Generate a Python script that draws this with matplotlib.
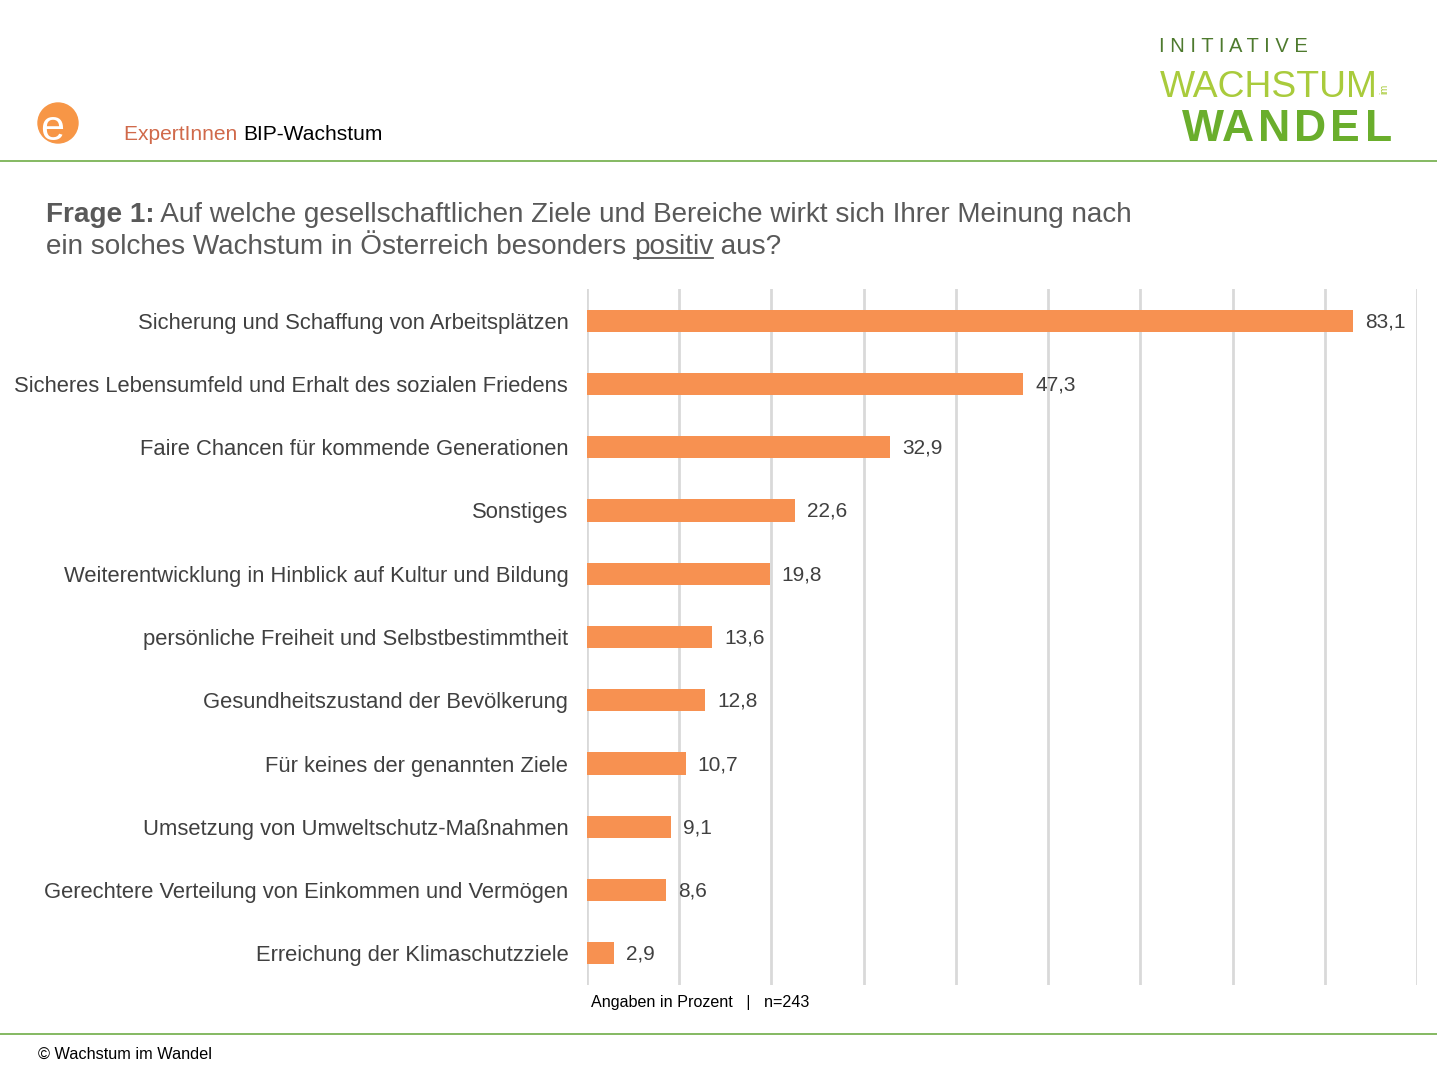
import matplotlib
matplotlib.use("Agg")
import matplotlib.pyplot as plt
from matplotlib.patches import Ellipse

plt.rcParams['font.family'] = ['Liberation Sans', 'DejaVu Sans']

categories = [
    "Sicherung und Schaffung von Arbeitsplätzen",
    "Sicheres Lebensumfeld und Erhalt des sozialen Friedens",
    "Faire Chancen für kommende Generationen",
    "Sonstiges",
    "Weiterentwicklung in Hinblick auf Kultur und Bildung",
    "persönliche Freiheit und Selbstbestimmtheit",
    "Gesundheitszustand der Bevölkerung",
    "Für keines der genannten Ziele",
    "Umsetzung von Umweltschutz-Maßnahmen",
    "Gerechtere Verteilung von Einkommen und Vermögen",
    "Erreichung der Klimaschutzziele",
]
values = [83.1, 47.3, 32.9, 22.6, 19.8, 13.6, 12.8, 10.7, 9.1, 8.6, 2.9]
value_labels = ["83,1", "47,3", "32,9", "22,6", "19,8", "13,6", "12,8", "10,7", "9,1", "8,6", "2,9"]
xticks = list(range(0, 91, 10))

W, H = 1437, 1079
fig = plt.figure(figsize=(W / 100, H / 100), dpi=100)

def fx(x):
    return x / W

def fy(y):
    return 1 - y / H

# axes
ax = fig.add_axes([fx(587), fy(985), (1417 - 587) / W, (985 - 289) / H])
pos = list(range(len(categories)))
ax.barh(pos, values, height=0.35, color="#F79151", zorder=3)
ax.set_xlim(0, 90)
ax.set_ylim(len(categories) - 0.5, -0.5)
ax.set_xticks(xticks)
ax.set_xticklabels([])
ax.set_yticks(pos)
ax.set_yticklabels(categories, fontsize=15.8, color="#404040")
ax.tick_params(axis='both', length=0)
ax.tick_params(axis='y', pad=13.5)
ax.grid(axis='x', color="#D9D9D9", linewidth=2, zorder=0)
for s in ax.spines.values():
    s.set_visible(False)
for p, v, lab in zip(pos, values, value_labels):
    ax.annotate(lab, (v, p), xytext=(12, -1), textcoords='offset pixels',
                va='center', ha='left', fontsize=15, color="#404040")

# header line and footer line
fig.add_artist(plt.Line2D([0, 1], [fy(161), fy(161)], color="#70AD47", linewidth=1.2))
fig.add_artist(plt.Line2D([0, 1], [fy(1034), fy(1034)], color="#70AD47", linewidth=1.2))

# e logo
circ = Ellipse((fx(58), fy(123)), width=40 / W, height=40 / H, transform=fig.transFigure,
               color="#F79646", zorder=5)
fig.add_artist(circ)
fig.text(fx(52), fy(140), "e", color="white", fontsize=31, ha='center', va='baseline',
         zorder=6)

fig.canvas.draw()
renderer = fig.canvas.get_renderer()

def seq_text(x, y, parts, size):
    """Place text parts sequentially; parts: list of (text, kwargs, underline)."""
    cur = x
    for txt, kw, ul in parts:
        t = fig.text(fx(cur), fy(y), txt, fontsize=size, va='baseline', ha='left', **kw)
        bb = t.get_window_extent(renderer=renderer)
        if ul:
            fig.add_artist(plt.Line2D([fx(cur), fx(cur + bb.width)],
                                      [fy(y + 4), fy(y + 4)],
                                      color=kw.get('color', 'k'), linewidth=1.3))
        cur += bb.width
    return cur

seq_text(124, 140, [("ExpertInnen ", dict(color="#D0694A"), False),
                    ("BIP-Wachstum", dict(color="black"), False)], 15.1)

tc = "#595959"
seq_text(46, 222, [("Frage 1:", dict(color=tc, fontweight='bold'), False),
                   (" Auf welche gesellschaftlichen Ziele und Bereiche wirkt sich Ihrer Meinung nach",
                    dict(color=tc), False)], 20.1)
seq_text(46, 254, [("ein solches Wachstum in Österreich besonders ", dict(color=tc), False),
                   ("positiv", dict(color=tc), True),
                   (" aus?", dict(color=tc), False)], 20.1)

# right logo
fig.text(fx(1159), fy(52), "I N I T I A T I V E", color="#4E7A2E", fontsize=14.5,
         ha='left', va='baseline')
fig.text(fx(1160), fy(97), "WACHSTUM", color="#A9CB3C", fontsize=26.8, ha='left',
         va='baseline')
fig.text(fx(1384), fy(89), "im", color="#A9CB3C", fontsize=7, ha='center', va='center',
         rotation=90)
wandel_letters = ["W", "A", "N", "D", "E", "L"]
wandel_centers = [1203, 1238, 1274, 1310, 1345, 1379]
for letter, cx in zip(wandel_letters, wandel_centers):
    fig.text(fx(cx), fy(141), letter, color="#6AAE2C", fontsize=32, ha='center',
             va='baseline', fontweight='bold',
             family=['Liberation Sans Narrow', 'Liberation Sans'])

# footer
fig.text(fx(591), fy(1007), "Angaben in Prozent   |   n=243", fontsize=11.6, color="black",
         ha='left', va='baseline')
fig.text(fx(38), fy(1059), "© Wachstum im Wandel", fontsize=11.7, color="black",
         ha='left', va='baseline')

fig.savefig("out.png", dpi=100)
